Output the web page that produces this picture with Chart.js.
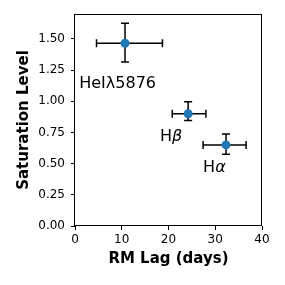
<!DOCTYPE html>
<html>
<head>
<meta charset="utf-8">
<script src="https://cdn.jsdelivr.net/npm/chart.js@4.4.1/dist/chart.umd.min.js"></script>
<style>
  html, body { margin: 0; padding: 0; background: #fff; }
  #wrap { width: 285px; height: 285px; }
</style>
</head>
<body>
<div id="wrap"><canvas id="chart" width="285" height="285"></canvas></div>
<script>
// emission lines and their fitted values
const lineNames = ["HeIλ5876", "Hβ", "Hα"];
const lagDays = [10.7, 24.2, 32.3];
const lagErrMinus = [6.1, 3.4, 4.9];
const lagErrPlus = [8.0, 3.8, 4.3];
const saturation = [1.465, 0.90, 0.65];
const satErrMinus = [0.15, 0.055, 0.075];
const satErrPlus = [0.16, 0.097, 0.088];

// where each name is written (data coords, left / baseline)
const labelLag = [0.9, 18.2, 27.4];
const labelSat = [1.11, 0.684, 0.43];

const xTicks = [0, 10, 20, 30, 40];
const yTicks = [0, 0.25, 0.5, 0.75, 1.0, 1.25, 1.5];

const tickFont = { family: "DejaVu Sans", size: 12 };
const titleFont = { family: "DejaVu Sans", size: 15, weight: "bold", lineHeight: 1.2 };

const points = [];
for (let i = 0; i < lagDays.length; i++) {
    points.push({ x: lagDays[i], y: saturation[i] });
}

const errorBars = {
    id: "errorBars",
    beforeDatasetsDraw(chart) {
        const ctx = chart.ctx;
        const xs = chart.scales.x, ys = chart.scales.y;
        const cap = 4;
        ctx.save();
        ctx.strokeStyle = "#000";
        ctx.lineWidth = 1.5;
        for (let i = 0; i < lagDays.length; i++) {
            const px = xs.getPixelForValue(lagDays[i]);
            const py = ys.getPixelForValue(saturation[i]);
            const x0 = xs.getPixelForValue(lagDays[i] - lagErrMinus[i]);
            const x1 = xs.getPixelForValue(lagDays[i] + lagErrPlus[i]);
            const y0 = ys.getPixelForValue(saturation[i] - satErrMinus[i]);
            const y1 = ys.getPixelForValue(saturation[i] + satErrPlus[i]);
            ctx.beginPath();
            ctx.moveTo(x0, py); ctx.lineTo(x1, py);
            ctx.moveTo(x0, py - cap); ctx.lineTo(x0, py + cap);
            ctx.moveTo(x1, py - cap); ctx.lineTo(x1, py + cap);
            ctx.moveTo(px, y0); ctx.lineTo(px, y1);
            ctx.moveTo(px - cap, y0); ctx.lineTo(px + cap, y0);
            ctx.moveTo(px - cap, y1); ctx.lineTo(px + cap, y1);
            ctx.stroke();
        }
        ctx.restore();
    },
    afterDraw(chart) {
        const ctx = chart.ctx;
        const a = chart.chartArea;
        const xs = chart.scales.x, ys = chart.scales.y;
        ctx.save();
        // frame on all four sides
        ctx.strokeStyle = "#000";
        ctx.lineWidth = 1;
        ctx.strokeRect(Math.round(a.left) - 0.5, Math.round(a.top) + 0.5,
            Math.round(a.right - a.left), Math.round(a.bottom - a.top) - 1);

        // line names, greek letters in italic like mathtext
        ctx.fillStyle = "#000";
        ctx.textBaseline = "alphabetic";
        ctx.textAlign = "left";
        for (let i = 0; i < lineNames.length; i++) {
            let x = xs.getPixelForValue(labelLag[i]);
            const y = ys.getPixelForValue(labelSat[i]);
            const name = lineNames[i];
            for (const ch of name) {
                const greek = /[α-ω]/.test(ch) && name.length <= 2;
                ctx.font = (greek ? "italic " : "") + "16px 'DejaVu Sans'";
                ctx.fillText(ch, x, y);
                x += ctx.measureText(ch).width;
            }
        }
        ctx.restore();
    }
};

new Chart(document.getElementById("chart").getContext("2d"), {
    type: "scatter",
    data: {
        datasets: [{
            label: "lines",
            data: points,
            backgroundColor: "#1f77b4",
            borderWidth: 0,
            pointRadius: 4.5,
            pointHoverRadius: 4.5
        }]
    },
    options: {
        responsive: false,
        animation: false,
        devicePixelRatio: 1,
        layout: { padding: { top: 14, right: 23, left: 0, bottom: 0 } },
        plugins: { legend: { display: false }, tooltip: { enabled: false } },
        scales: {
            x: {
                type: "linear",
                min: 0, max: 40,
                afterFit(scale) { scale.height = 59; },
                afterBuildTicks(scale) { scale.ticks = xTicks.map(v => ({ value: v })); },
                border: { display: false },
                grid: { drawOnChartArea: false, drawTicks: true, tickLength: 4, tickColor: "#000", tickWidth: 1 },
                ticks: { font: tickFont, color: "#000", padding: 3, maxRotation: 0, callback: v => String(v) },
                title: { display: true, text: "RM Lag (days)", font: titleFont, color: "#000", padding: { top: 0, bottom: 17 } }
            },
            y: {
                type: "linear",
                min: 0, max: 1.7,
                afterFit(scale) { scale.width = 75; },
                afterBuildTicks(scale) { scale.ticks = yTicks.map(v => ({ value: v })); },
                border: { display: false },
                grid: { drawOnChartArea: false, drawTicks: true, tickLength: 4, tickColor: "#000", tickWidth: 1 },
                ticks: { font: tickFont, color: "#000", padding: 6, callback: v => v.toFixed(2) },
                title: { display: true, text: "Saturation Level", font: titleFont, color: "#000", padding: { top: 15, bottom: 0 } }
            }
        }
    },
    plugins: [errorBars]
});
</script>
</body>
</html>
